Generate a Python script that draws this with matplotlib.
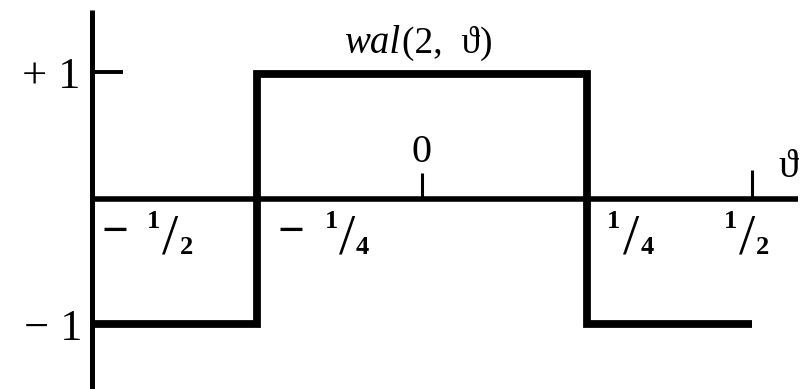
import matplotlib
matplotlib.use("Agg")
import matplotlib.pyplot as plt

# Walsh function wal(2, theta) on one period
theta_edges = [-0.5, -0.25, 0.25, 0.5]
wal_values = [-1, 1, -1]

# tick labels on the theta axis: (position, sign, numerator, denominator)
frac_pos = [-0.5, -0.25, 0.25, 0.5]
frac_sign = ["−", "−", "", ""]
frac_num = ["1", "1", "1", "1"]
frac_den = ["2", "4", "4", "2"]

SERIF = ["Liberation Serif", "DejaVu Serif"]

fig = plt.figure(figsize=(8.04, 3.89), dpi=100)
ax = fig.add_axes([0, 0, 1, 1])
ax.set_xlim(-0.6394, 0.5788)
ax.set_ylim(-1.52, 1.592)
ax.axis("off")

# coordinate axes
ax.plot([-0.5, -0.5], [-1.7, 1.512], color="black", lw=3.6, solid_capstyle="butt")
ax.plot([-0.5, 0.57], [0, 0], color="black", lw=4.0, solid_capstyle="butt")

# small ticks
ax.plot([-0.5, -0.453], [1.02, 1.02], color="black", lw=2.8, solid_capstyle="butt")
ax.plot([0, 0], [0, 0.21], color="black", lw=2.2, solid_capstyle="butt")
ax.plot([0.5, 0.5], [0, 0.23], color="black", lw=2.2, solid_capstyle="butt")

# the Walsh function itself
ax.stairs(wal_values, theta_edges, baseline=None, color="black", lw=5.6)


def put(text, xy, dx, dy, size, ha="left", style="normal", weight="normal"):
    ax.annotate(text, xy=xy, xytext=(dx, dy), textcoords="offset pixels",
                ha=ha, va="baseline", fontsize=size, family=SERIF,
                style=style, fontweight=weight, color="black")


# level labels
put("+ 1", (-0.5, 1), -12, -14, 32, ha="right")
put("− 1", (-0.5, -1), -10, -16, 32, ha="right")

# title
put("wal", (0, 1), -22, 21, 28, ha="right", style="italic")
put("(2,  ϑ)", (0, 1), -20, 21, 27, ha="left")

# origin and axis name
put("0", (0, 0), 0, 37, 29, ha="center")
put("ϑ", (0.5, 0), 36, 22, 29, ha="center")

# fractional tick labels, glyph offsets in pixels from each tick
minus_dx = [9, 20, None, None]
num_dx = [55, 68, 20, -28]
slash_dx = [70, 82, 36, -13]
den_dx = [88, 99, 54, 4]

for i, pos in enumerate(frac_pos):
    if frac_sign[i]:
        put(frac_sign[i], (pos, 0), minus_dx[i], -46, 34, weight="bold")
    put(frac_num[i], (pos, 0), num_dx[i], -29, 19, weight="bold")
    put("/", (pos, 0), slash_dx[i], -55, 42)
    put(frac_den[i], (pos, 0), den_dx[i], -55, 19, weight="bold")

fig.savefig("out.png", dpi=100, facecolor="white")
